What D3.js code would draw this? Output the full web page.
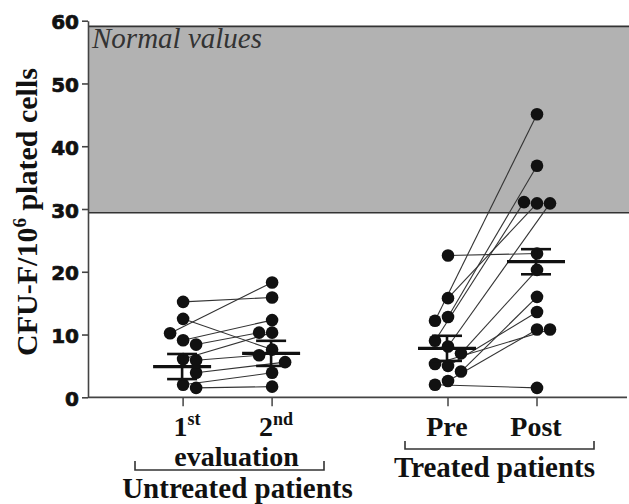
<!DOCTYPE html>
<html>
<head>
<meta charset="utf-8">
<script src="https://cdn.jsdelivr.net/npm/d3@7"></script>
<style>
  html, body { margin: 0; padding: 0; background: #fff; }
  svg { display: block; }
</style>
</head>
<body>
<svg id="chart" width="629" height="504"></svg>
<script>
// CFU-F per 10^6 plated cells, paired per patient
const timepoints = ["1st", "2nd", "Pre", "Post"];
const groups = ["Untreated patients", "Treated patients"];
const untreatedFirst  = [15.2, 12.5, 9.1, 6.1, 2.0, 8.4, 10.2, 5.9, 3.9, 1.5];
const untreatedSecond = [15.9, 7.6, 12.3, 10.3, 3.9, 10.3, 18.3, 6.7, 5.6, 1.7];
const treatedPre  = [22.6, 15.8, 12.8, 8.1, 5.0, 2.6, 12.2, 9.0, 5.3, 7.0, 4.1, 2.0];
const treatedPost = [22.9, 30.9, 36.9, 30.9, 13.6, 10.8, 45.1, 31.1, 10.8, 20.3, 16.0, 1.5];
// mean ± SEM per time point
const meanValues = [4.9, 7.0, 7.8, 21.6];
const semValues  = [2.0, 2.0, 2.0, 2.0];
// reference range of healthy donors
const normalRange = [29.4, 59.1];
const normalLabel = "Normal values";
const yTicks = [0, 10, 20, 30, 40, 50, 60];

const svg = d3.select("#chart");
const W = 629;

const y = d3.scaleLinear().domain([0, 60]).range([397.3, 20.7]);
const xGroup = d3.scalePoint().domain(groups).range([227.6, 492.5]);
const xInner = d3.scalePoint().domain([0, 1]).range([-44.5, 44.5]);
const xAt = i => xGroup(groups[Math.floor(i / 2)]) + xInner(i % 2);

const axisLeftX = 88;
const axisRightX = 627;

// shaded normal band
svg.append("rect")
  .attr("x", axisLeftX).attr("width", W - axisLeftX + 2)
  .attr("y", y(normalRange[1])).attr("height", y(normalRange[0]) - y(normalRange[1]))
  .attr("fill", "#b2b2b2");
svg.selectAll("line.band-edge").data(normalRange).join("line")
  .attr("class", "band-edge")
  .attr("x1", axisLeftX).attr("x2", W + 2)
  .attr("y1", d => y(d)).attr("y2", d => y(d))
  .attr("stroke", "#333").attr("stroke-width", 1.6);
svg.append("text")
  .attr("x", 92).attr("y", 48)
  .attr("font-family", "'Liberation Serif', 'Times New Roman', serif")
  .attr("font-style", "italic").attr("font-size", 29)
  .attr("fill", "#333")
  .text(normalLabel);

// y axis
const yAxis = d3.axisLeft(y).tickValues(yTicks).tickSize(6).tickSizeOuter(0).tickPadding(3);
const gy = svg.append("g").attr("transform", `translate(${axisLeftX},0)`).call(yAxis);
gy.select(".domain").attr("stroke", "#444").attr("stroke-width", 1.6);
gy.selectAll(".tick line").attr("stroke", "#444").attr("stroke-width", 1.6);
gy.selectAll(".tick text")
  .attr("font-family", "'DejaVu Sans', sans-serif")
  .attr("font-weight", "bold").attr("font-size", 20)
  .attr("fill", "#111").attr("stroke", "#111").attr("stroke-width", 0.7)
  .attr("dy", "0.4em");

// x axis
svg.append("line")
  .attr("x1", axisLeftX).attr("x2", axisRightX)
  .attr("y1", y(0)).attr("y2", y(0))
  .attr("stroke", "#444").attr("stroke-width", 1.8);
svg.selectAll("line.xtick").data(timepoints).join("line")
  .attr("class", "xtick")
  .attr("x1", (d, i) => xAt(i)).attr("x2", (d, i) => xAt(i))
  .attr("y1", y(0)).attr("y2", y(0) + 9)
  .attr("stroke", "#444").attr("stroke-width", 1.5);

// y title
const serif = "'Liberation Serif', 'Times New Roman', serif";
const yTitle = svg.append("text")
  .attr("transform", "translate(37,212) rotate(-90)")
  .attr("text-anchor", "middle")
  .attr("font-family", serif).attr("font-weight", "bold").attr("font-size", 30)
  .attr("fill", "#111");
yTitle.append("tspan").text("CFU-F/10");
yTitle.append("tspan").attr("dy", -11).attr("font-size", 19).text("6");
yTitle.append("tspan").attr("dy", 11).text(" plated cells");

// time point labels with ordinal superscripts
const tickLabels = [
  { main: "1", sup: "st" },
  { main: "2", sup: "nd" },
  { main: "Pre", sup: "" },
  { main: "Post", sup: "" }
];
tickLabels.forEach((t, i) => {
  const txt = svg.append("text")
    .attr("x", xAt(i) + (t.sup ? 4 : -1)).attr("y", 436)
    .attr("text-anchor", "middle")
    .attr("font-family", serif).attr("font-weight", "bold").attr("font-size", 28)
    .attr("fill", "#111");
  txt.append("tspan").text(t.main);
  if (t.sup) txt.append("tspan").attr("dy", -11).attr("font-size", 18).text(t.sup);
});

// group brackets and captions
function bracket(x1, x2, yLine, yTop) {
  svg.append("path")
    .attr("d", `M${x1},${yTop}V${yLine}H${x2}V${yTop}`)
    .attr("fill", "none").attr("stroke", "#333").attr("stroke-width", 1.6);
}
bracket(135, 324, 470, 461);
bracket(405, 594, 449, 441);

function caption(text, x, yy, size) {
  svg.append("text")
    .attr("x", x).attr("y", yy).attr("text-anchor", "middle")
    .attr("font-family", serif).attr("font-weight", "bold").attr("font-size", size)
    .attr("fill", "#111").text(text);
}
caption("evaluation", 236.5, 466, 28);
caption(groups[0], 237.5, 497.5, 29);
caption(groups[1], 494.5, 476.5, 29);

// spread overlapping dots sideways within a column
const dotR = 6.3, step = 13, minDist = 12;
function swarm(values, cx, pref) {
  const placed = [];
  return values.map(v => {
    const py = y(v);
    const cands = [0, pref * step, -pref * step, 2 * pref * step, -2 * pref * step];
    let dx = cands[cands.length - 1];
    for (const c of cands) {
      if (placed.every(p => Math.hypot(p.x - (cx + c), p.y - py) >= minDist)) { dx = c; break; }
    }
    const pt = { x: cx + dx, y: py, v };
    placed.push(pt);
    return pt;
  });
}

const columns = [untreatedFirst, untreatedSecond, treatedPre, treatedPost];
const prefs = [1, -1, -1, 1];
const placedCols = columns.map((vals, i) => swarm(vals, xAt(i), prefs[i]));

// connecting lines per patient
const pairs = [];
[[0, 1], [2, 3]].forEach(([a, b]) => {
  placedCols[a].forEach((p, k) => pairs.push([p, placedCols[b][k]]));
});
svg.append("g").selectAll("line").data(pairs).join("line")
  .attr("x1", d => d[0].x).attr("y1", d => d[0].y)
  .attr("x2", d => d[1].x).attr("y2", d => d[1].y)
  .attr("stroke", "#333").attr("stroke-width", 1.1);

// dots
svg.append("g").selectAll("circle").data(placedCols.flat()).join("circle")
  .attr("cx", d => d.x).attr("cy", d => d.y).attr("r", dotR)
  .attr("fill", "#111");

// mean and SEM bars
const gMean = svg.append("g").attr("stroke", "#111");
meanValues.forEach((m, i) => {
  const cx = xAt(i) - 1;
  const s = semValues[i];
  gMean.append("line").attr("x1", cx).attr("x2", cx)
    .attr("y1", y(m + s)).attr("y2", y(m - s)).attr("stroke-width", 2.6);
  [m + s, m - s].forEach(v => {
    gMean.append("line").attr("x1", cx - 15).attr("x2", cx + 15)
      .attr("y1", y(v)).attr("y2", y(v)).attr("stroke-width", 2.6);
  });
  gMean.append("line").attr("x1", cx - 29).attr("x2", cx + 29)
    .attr("y1", y(m)).attr("y2", y(m)).attr("stroke-width", 3.2);
});
</script>
</body>
</html>
